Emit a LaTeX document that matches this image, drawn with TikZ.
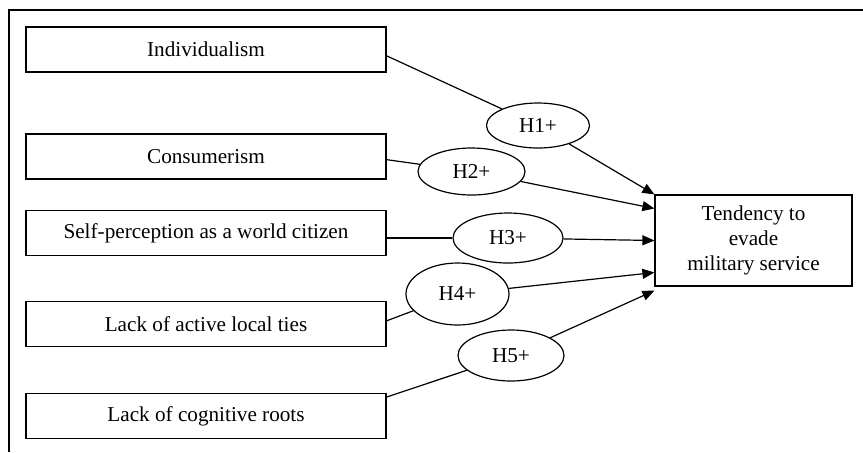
\documentclass[tikz,border=0pt]{standalone}
\usepackage{fontspec}
\setmainfont{Liberation Serif}
\usetikzlibrary{arrows.meta,shapes.geometric,positioning}

\begin{document}
\begin{tikzpicture}[
    x=0.5pt, y=-0.5pt,
    font=\fontsize{10.6}{12.6}\selectfont,
    factor/.style={draw, line width=0.6pt, rectangle, minimum width=180pt, minimum height=22.5pt, inner sep=0},
    hyp/.style={draw, line width=0.6pt, ellipse, inner sep=0},
    outcome/.style={draw, line width=0.6pt, rectangle, align=center, minimum width=98.5pt, minimum height=45.5pt, inner sep=0},
    link/.style={line width=0.6pt},
    effect/.style={line width=0.6pt, -{Triangle[length=6pt,width=5pt]}}]
\useasboundingbox (0,0) rectangle (863,452);
\draw[line width=1pt] (9,452) -- (9,10) -- (863,10);

% predictors
\node[factor] (ind) at (206,49.5) {Individualism};
\node[factor] (con) at (206,156.5) {Consumerism};
\node[factor] (wc)  at (206,233) {Self-perception as a world citizen};
\node[factor] (lt)  at (206,324) {Lack of active local ties};
\node[factor] (cr)  at (206,416) {Lack of cognitive roots};

% outcome
\node[outcome] (ev) at (753.5,240.5) {Tendency to\\evade\\military service};

% hypotheses
\node[hyp, minimum width=51.5pt, minimum height=22.5pt] (h1) at (538,125.5) {H1+};
\node[hyp, minimum width=53.5pt, minimum height=23.5pt] (h2) at (471.5,171.5) {H2+};
\node[hyp, minimum width=55pt, minimum height=25pt]   (h3) at (508,238) {H3+};
\node[hyp, minimum width=51.5pt, minimum height=31pt] (h4) at (457.5,294) {H4+};
\node[hyp, minimum width=53pt, minimum height=25.5pt] (h5) at (511,355.5) {H5+};

\coordinate (t1) at (ev.north west);
\coordinate (t2) at ([yshift=16pt]ev.west);
\coordinate (t3) at (ev.west);
\coordinate (t4) at ([yshift=-16pt]ev.west);
\coordinate (t5) at ([yshift=-2pt]ev.south west);

\draw[link] (ind.-2.4) -- (h1);
\draw[link] (con.-1.9) -- (h2);
\draw[link] (wc.east |- h3) -- (h3);
\draw[link] (lt.1.6) -- (h4);
\draw[link] (cr.6.7) -- (h5);

\draw[effect] (h1) -- (t1);
\draw[effect] (h2) -- (t2);
\draw[effect] (h3) -- (t3);
\draw[effect] (h4) -- (t4);
\draw[effect] (h5) -- (t5);
\end{tikzpicture}
\end{document}
